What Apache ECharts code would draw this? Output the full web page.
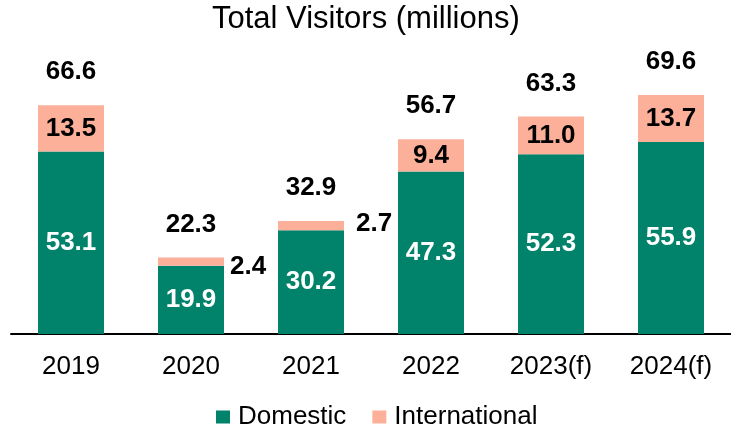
<!DOCTYPE html>
<html>
<head>
<meta charset="utf-8">
<script src="https://cdn.jsdelivr.net/npm/echarts@6/dist/echarts.min.js"></script>
<style>html,body{margin:0;padding:0;background:#fff}#c{width:731px;height:426px}</style>
</head>
<body>
<div id="c"></div>
<script>
const categories = ['2019', '2020', '2021', '2022', '2023(f)', '2024(f)'];
const domestic = [53.1, 19.9, 30.2, 47.3, 52.3, 55.9];
const international = [13.5, 2.4, 2.7, 9.4, 11.0, 13.7];
const totals = [66.6, 22.3, 32.9, 56.7, 63.3, 69.6];

const FONT = '"Liberation Sans", Arial, sans-serif';
const GREEN = '#00836A';
const SALMON = '#FCB09A';

const outsideCfg = { 1: { distance: 6, offset: [0, 5] }, 2: { distance: 12, offset: [0, -2] } };
const intlData = international.map((v, i) => {
  if (outsideCfg[i]) {
    return { value: v, label: { position: 'right', distance: outsideCfg[i].distance, offset: outsideCfg[i].offset } };
  }
  return v;
});

const chart = echarts.init(document.getElementById('c'), null, { renderer: 'canvas' });
chart.setOption({
  animation: false,
  title: {
    text: 'Total Visitors (millions)',
    left: 212,
    top: 4,
    padding: 0,
    textStyle: { fontFamily: FONT, fontSize: 31, fontWeight: 'normal', color: '#000' }
  },
  legend: {
    top: 399,
    left: 211,
    itemWidth: 14,
    itemHeight: 13,
    itemGap: 26,
    icon: 'rect',
    textStyle: { fontFamily: FONT, fontSize: 26, color: '#000', padding: [0, 0, 0, 3] },
    data: ['Domestic', 'International']
  },
  grid: { left: 11, right: 0, top: 59.2, bottom: 92, containLabel: false },
  xAxis: {
    type: 'category',
    data: categories,
    axisLine: { lineStyle: { color: '#000', width: 2 } },
    axisTick: { show: false },
    axisLabel: { fontFamily: FONT, fontSize: 26, color: '#000', margin: 20 }
  },
  yAxis: {
    type: 'value',
    min: 0,
    max: 80,
    show: false,
    splitLine: { show: false }
  },
  series: [
    {
      name: 'Domestic',
      type: 'bar',
      stack: 'v',
      barWidth: 66,
      data: domestic,
      itemStyle: { color: GREEN },
      label: {
        show: true, position: 'inside', color: '#fff', fontFamily: FONT, fontSize: 26, fontWeight: 'bold',
        formatter: p => p.value.toFixed(1)
      }
    },
    {
      name: 'International',
      type: 'bar',
      stack: 'v',
      barWidth: 66,
      data: intlData,
      itemStyle: { color: SALMON },
      label: {
        show: true, position: 'inside', color: '#000', fontFamily: FONT, fontSize: 26, fontWeight: 'bold',
        formatter: p => Number(p.value).toFixed(1)
      }
    },
    {
      name: 'Total',
      type: 'scatter',
      data: totals,
      symbolSize: 0,
      silent: true,
      itemStyle: { opacity: 1, color: '#000' },
      label: {
        show: true, position: 'top', distance: 20, color: '#000', opacity: 1, fontFamily: FONT, fontSize: 26, fontWeight: 'bold',
        formatter: p => p.value.toFixed(1)
      }
    }
  ]
});
</script>
</body>
</html>
